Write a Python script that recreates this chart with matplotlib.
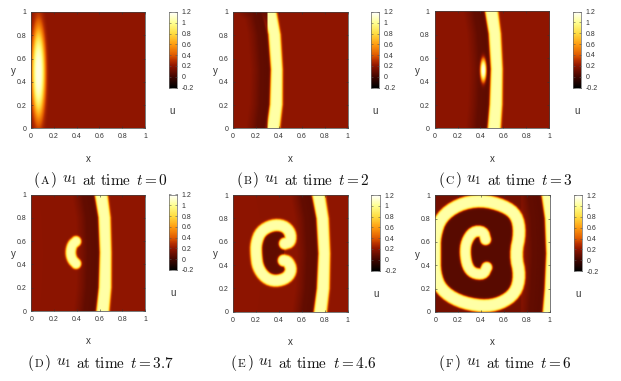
import numpy as np
import matplotlib
matplotlib.use("Agg")
import matplotlib.pyplot as plt
from matplotlib.colors import LinearSegmentedColormap
from matplotlib.path import Path

plt.rcParams['font.family'] = ['Liberation Sans', 'DejaVu Sans']
plt.rcParams['mathtext.fontset'] = 'cm'

W, H = 621, 381

tick_values = [0, 0.2, 0.4, 0.6, 0.8, 1]
tick_labels = ['0', '0.2', '0.4', '0.6', '0.8', '1']
cb_values = [-0.2, 0, 0.2, 0.4, 0.6, 0.8, 1, 1.2]
cb_labels = ['-0.2', '0', '0.2', '0.4', '0.6', '0.8', '1', '1.2']

# colour scale
cmap_values = [-0.2, 0.0, 0.2, 0.3, 0.4, 0.6, 0.8, 1.0, 1.2]
cmap_colors = ['#000000', '#420600', '#8f1500', '#b83000', '#e05a00', '#ff9c10', '#ffdc40', '#ffff90', '#ffffff']

# plane front: centre x at given y, dark band behind it
front_y_a = [0, 0.2, 0.5, 0.8, 1]
front_b = [0.35, 0.375, 0.38, 0.36, 0.32]
front_c = [0.515, 0.53, 0.537, 0.52, 0.49]
front_d = [0.63, 0.65, 0.655, 0.645, 0.615]
front_e = [0.76, 0.785, 0.795, 0.78, 0.745]
front_f = [0.995, 1.01, 1.02, 1.01, 0.985]
front_half = [0.056, 0.054, 0.05, 0.052, 0.056]

# elongated spots (cx, cy, a, b)
spot_a = (0.065, 0.475, 0.056, 0.375)
spot_c = (0.42, 0.49, 0.026, 0.095)

# centre lines of curved bands
crescent_d_x = [0.395, 0.36, 0.345, 0.36, 0.395]
crescent_d_y = [0.595, 0.565, 0.5, 0.44, 0.405]
c_e_x = [0.45, 0.50, 0.50, 0.44, 0.34, 0.24, 0.20, 0.20, 0.215, 0.28, 0.37, 0.47, 0.51, 0.48, 0.44]
c_e_y = [0.585, 0.60, 0.68, 0.74, 0.745, 0.69, 0.59, 0.49, 0.38, 0.29, 0.26, 0.29, 0.36, 0.43, 0.44]
ring_f_x = [-0.005, -0.005, 0.05, 0.2, 0.4, 0.60, 0.71, 0.74, 0.70, 0.74, 0.70, 0.57, 0.41, 0.2, 0.05, -0.005, -0.005]
ring_f_y = [0.5, 0.65, 0.81, 0.92, 0.96, 0.91, 0.83, 0.68, 0.49, 0.31, 0.16, 0.07, 0.045, 0.09, 0.19, 0.33, 0.5]
c_f_x = [0.44, 0.42, 0.33, 0.27, 0.26, 0.28, 0.33, 0.42, 0.45]
c_f_y = [0.62, 0.69, 0.69, 0.60, 0.50, 0.39, 0.33, 0.32, 0.38]

# pixel boxes: axes x0, x1, y0, y1 then colour bar x0, x1, y1
boxes = [(31, 145, 12, 128.5, 168.5, 176.5, 87.5),
         (233, 347.5, 12, 128.5, 370.7, 379, 87.5),
         (434.7, 549, 11.5, 128.5, 572.7, 581, 87.5),
         (31.3, 145, 194.5, 311, 168.7, 177, 270),
         (233, 347.7, 195, 311.7, 371.3, 380, 270.5),
         (435.3, 549.7, 195.3, 312, 573.7, 582, 271)]

caption_letters = ['A', 'B', 'C', 'D', 'E', 'F']
caption_times = ['0', '2', '3', '3.7', '4.6', '6']
caption_x = [33, 236, 438, 27, 230, 438]
caption_y = [180, 180, 180, 363, 363, 363]

n = 320
gx, gy = np.meshgrid(np.linspace(0, 1, n), np.linspace(0, 1, n))
bg = 0.2
peak = 1.04


def soft(d, width=0.005):
    return 1 / (1 + np.exp(np.clip(d / width, -30, 30)))


def smooth_line(xs, ys, rounds=2):
    p = np.column_stack([xs, ys])
    for _ in range(rounds):
        q = 0.75 * p[:-1] + 0.25 * p[1:]
        r = 0.25 * p[:-1] + 0.75 * p[1:]
        mid = np.empty((2 * len(q), 2))
        mid[0::2] = q
        mid[1::2] = r
        p = np.vstack([p[0], mid, p[-1]])
    return p


def line_dist(p):
    best = np.full(gx.shape, 9.0)
    for a, b in zip(p[:-1], p[1:]):
        ab = b - a
        t = ((gx - a[0]) * ab[0] + (gy - a[1]) * ab[1]) / max((ab ** 2).sum(), 1e-12)
        t = np.clip(t, 0, 1)
        best = np.minimum(best, np.hypot(gx - a[0] - t * ab[0], gy - a[1] - t * ab[1]))
    return best


def inside(p):
    pts = np.column_stack([gx.ravel(), gy.ravel()])
    return Path(p).contains_points(pts).reshape(gx.shape)


def add_band(u, p, half):
    m = soft(line_dist(p) - half)
    return u * (1 - m) + peak * m


def add_spot(u, spot):
    cx, cy, a, b = spot
    r = np.sqrt(((gx - cx) / a) ** 2 + ((gy - cy) / b) ** 2)
    m = np.exp(-r ** 3 * 0.9)
    return u * (1 - m) + 1.15 * m


def add_front(u, fx, dark_width):
    xf = np.interp(gy, front_y_a, fx)
    half = np.interp(gy, front_y_a, front_half)
    d = xf - half - gx
    dark = np.interp(d, [-1, 0, dark_width - 0.04, dark_width, dark_width + 0.05, 1],
                     [0.2, 0.07, 0.09, 0.14, 0.19, 0.2])
    u = np.where(gx < xf, np.minimum(u, dark), u)
    m = soft(np.abs(gx - xf) - half)
    return u * (1 - m) + peak * m


def field(i):
    u = np.full(gx.shape, bg)
    if i == 0:
        u = add_spot(u, spot_a)
    elif i == 1:
        u = add_front(u, front_b, 0.13)
        top = np.interp(gy, [0.88, 0.97], [0.2, 0.11]) + np.interp(gx, [0.03, 0.15], [0.09, 0.0])
        u = np.where(gx < 0.3, np.minimum(u, top), u)
    elif i == 2:
        u = add_front(u, front_c, 0.14)
        u = add_spot(u, spot_c)
    elif i == 3:
        u = add_front(u, front_d, 0.15)
        u = add_band(u, smooth_line(crescent_d_x, crescent_d_y), 0.044)
    elif i == 4:
        u = add_front(u, front_e, 0.14)
        p = smooth_line(c_e_x, c_e_y)
        u = np.where(inside(p), 0.08, u)
        u = add_band(u, p, 0.05)
    else:
        u = add_front(u, front_f, 0.16)
        ring = smooth_line(ring_f_x, ring_f_y)
        u = np.where(gx < 0.75, np.where(inside(ring), 0.06, 0.13), u)
        u = add_band(u, ring, 0.054)
        u = add_band(u, smooth_line(c_f_x, c_f_y), 0.047)
    return u


def px_axes(fig, x0, x1, y0, y1):
    return fig.add_axes([x0 / W, 1 - y1 / H, (x1 - x0) / W, (y1 - y0) / H])


def caption(fig, x, y, letter, time):
    pieces = [(r'$\mathrm{(}$', 11), (r'$\mathrm{%s}$' % letter, 8.2), (r'$\mathrm{)}$', 11),
              (r'$u_1$', 11), (r'$\mathrm{at\ time}$', 11), (r'$t=%s$' % time, 11)]
    gaps = [0, 0, 5, 5, 5, 0]
    r = fig.canvas.get_renderer()
    for (s, size), gap in zip(pieces, gaps):
        t = fig.text(x / W, 1 - y / H, s, fontsize=size, va='center', ha='left', color='#111111')
        x += t.get_window_extent(r).width + gap


norm_pos = [min((v + 0.2) / 1.4, 1.0) for v in cmap_values]
cmap = LinearSegmentedColormap.from_list('heat', list(zip(norm_pos, cmap_colors)))

fig = plt.figure(figsize=(W / 100, H / 100), dpi=100)

for i, box in enumerate(boxes):
    x0, x1, y0, y1, cx0, cx1, cy1 = box
    ax = px_axes(fig, x0, x1, y0, y1)
    ax.imshow(field(i), origin='lower', extent=[0, 1, 0, 1], cmap=cmap, vmin=-0.2, vmax=1.2,
              aspect='auto', interpolation='bilinear')
    ax.set_xticks(tick_values)
    ax.set_xticklabels(tick_labels)
    ax.set_yticks(tick_values)
    ax.set_yticklabels(tick_labels)
    ax.tick_params(direction='in', top=True, right=True, length=1.5, width=0.4,
                   labelsize=5, pad=3.5, labelcolor='#333333', color='#333333')
    for s in ax.spines.values():
        s.set_linewidth(0.5)
        s.set_color('#444444')
    fig.text((x0 + x1) / 2 / W, 1 - (y1 + 30) / H, 'x', fontsize=7, ha='center', va='center', color='#333333')
    fig.text((x0 - 17.5) / W, 1 - ((y0 + y1) / 2 + 1) / H, 'y', fontsize=7, ha='center', va='center', color='#333333')

    cax = px_axes(fig, cx0, cx1, y0, cy1)
    cax.pcolormesh([0, 1], np.linspace(-0.2, 1.2, 257), np.linspace(-0.2, 1.2, 256).reshape(-1, 1),
                   cmap=cmap, vmin=-0.2, vmax=1.2)
    cax.set_xticks([])
    cax.set_yticks(cb_values)
    cax.set_yticklabels(cb_labels)
    cax.set_ylim(-0.2, 1.2)
    cax.yaxis.tick_right()
    cax.tick_params(axis='y', direction='in', left=True, right=True, length=1.5, width=0.4,
                    labelsize=5, pad=3.5, labelcolor='#333333', color='#555555')
    for s in cax.spines.values():
        s.set_linewidth(0.5)
        s.set_color('#666666')
    fig.text((cx0 + cx1) / 2 / W, 1 - (y0 + 99) / H, 'u', fontsize=7, ha='center', va='center', color='#333333')

    caption(fig, caption_x[i], caption_y[i], caption_letters[i], caption_times[i])

fig.savefig('out.png', dpi=100)
